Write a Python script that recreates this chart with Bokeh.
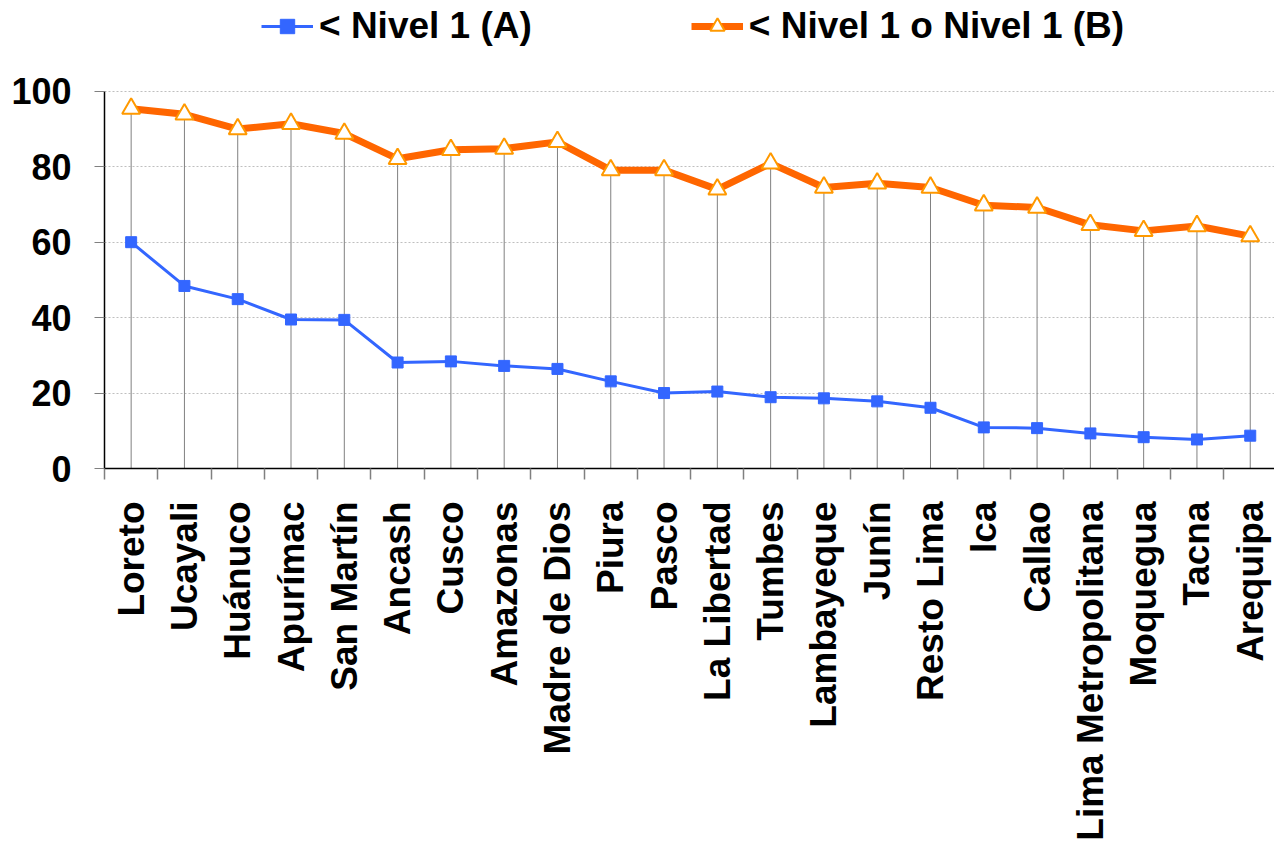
import numpy as np
from bokeh.plotting import figure
from bokeh.models import Range1d, FixedTicker, Legend, LegendItem
from bokeh.embed import file_html
from bokeh.resources import INLINE

regions = ["Loreto", "Ucayali", "Huánuco", "Apurímac", "San Martín", "Ancash",
           "Cusco", "Amazonas", "Madre de Dios", "Piura", "Pasco", "La Libertad",
           "Tumbes", "Lambayeque", "Junín", "Resto Lima", "Ica", "Callao",
           "Lima Metropolitana", "Moquegua", "Tacna", "Arequipa"]
nivel_a = [60.0, 48.4, 44.9, 39.5, 39.4, 28.1, 28.4, 27.2, 26.4, 23.1, 20.0, 20.4,
           18.9, 18.6, 17.8, 16.1, 10.9, 10.7, 9.3, 8.3, 7.7, 8.7]
nivel_b = [95.4, 93.9, 90.0, 91.4, 88.8, 82.1, 84.5, 84.8, 86.6, 79.1, 79.1, 74.0,
           80.9, 74.5, 75.6, 74.5, 69.8, 69.2, 64.6, 63.0, 64.3, 61.6]
label_a = "< Nivel 1 (A)"
label_b = "< Nivel 1 o Nivel 1 (B)"
y_ticks = [0, 20, 40, 60, 80, 100]

n = len(regions)
xs = list(range(1, n + 1))
FONT = "Liberation Sans"

# frame: left 104, top 0 (legend lives inside), value 100 at y=91, value 0 at y=469
p = figure(width=1274, height=843, output_backend="svg", toolbar_location=None,
           x_range=Range1d(0.5, 0.5 + 1170 / 53.29),
           y_range=Range1d(0, 100 + 91 / 3.78),
           min_border_left=104, min_border_right=0, min_border_top=0,
           min_border_bottom=374)
p.outline_line_color = None
p.background_fill_color = "white"
p.border_fill_color = "white"

# grid
p.xgrid.visible = False
p.ygrid.ticker = FixedTicker(ticks=y_ticks)
p.ygrid.grid_line_color = "#BFBFBF"
p.ygrid.grid_line_dash = "2 2"
p.ygrid.grid_line_width = 1

# y axis
p.yaxis.axis_label = None
p.yaxis.bounds = (0, 100)
p.yaxis.ticker = FixedTicker(ticks=y_ticks)
p.yaxis.axis_line_color = "black"
p.yaxis.axis_line_width = 1.5
p.yaxis.major_tick_in = 0
p.yaxis.major_tick_out = 10
p.yaxis.major_tick_line_color = "#808080"
p.yaxis.minor_tick_line_color = None
p.yaxis.major_label_text_font = FONT
p.yaxis.major_label_text_font_style = "bold"
p.yaxis.major_label_text_font_size = "36px"
p.yaxis.major_label_text_color = "black"
p.yaxis.major_label_standoff = 23

# x axis
p.xaxis.axis_label = None
p.xaxis.ticker = FixedTicker(ticks=xs, minor_ticks=[x - 0.5 for x in xs] + [n + 0.5])
p.xaxis.major_label_overrides = {x: r for x, r in zip(xs, regions)}
p.xaxis.axis_line_color = "black"
p.xaxis.axis_line_width = 1.5
p.xaxis.major_tick_in = 0
p.xaxis.major_tick_out = 0
p.xaxis.minor_tick_in = 0
p.xaxis.minor_tick_out = 11
p.xaxis.minor_tick_line_color = "#808080"
p.xaxis.minor_tick_line_width = 1.5
p.xaxis.major_label_orientation = np.pi / 2
p.xaxis.major_label_text_font = FONT
p.xaxis.major_label_text_font_style = "bold"
p.xaxis.major_label_text_font_size = "37px"
p.xaxis.major_label_text_color = "black"
p.xaxis.major_label_standoff = 22

# drop lines
p.segment(x0=xs, y0=[0] * n, x1=xs, y1=nivel_b, line_color="#808080", line_width=1)

la = p.line(xs, nivel_a, line_color="#3366FF", line_width=3)
sa = p.scatter(xs, nivel_a, marker="square", size=11, fill_color="#3366FF",
               line_color="#3366FF")
lb = p.line(xs, nivel_b, line_color="#FF6600", line_width=7)
sb = p.scatter(xs, nivel_b, marker="triangle", size=18, fill_color="white",
               line_color="#FF9900", line_width=2)

legend = Legend(items=[LegendItem(label=label_a, renderers=[la, sa]),
                       LegendItem(label=label_b, renderers=[lb, sb])],
                orientation="horizontal", location=(157, 421), spacing=159,
                glyph_width=52, glyph_height=36, label_standoff=6,
                label_text_font=FONT, label_text_font_style="bold",
                label_text_font_size="37px", label_text_color="black",
                border_line_color=None, background_fill_alpha=0,
                padding=0, margin=0)
p.add_layout(legend, "center")

open("out.html", "w").write(file_html(p, INLINE))
